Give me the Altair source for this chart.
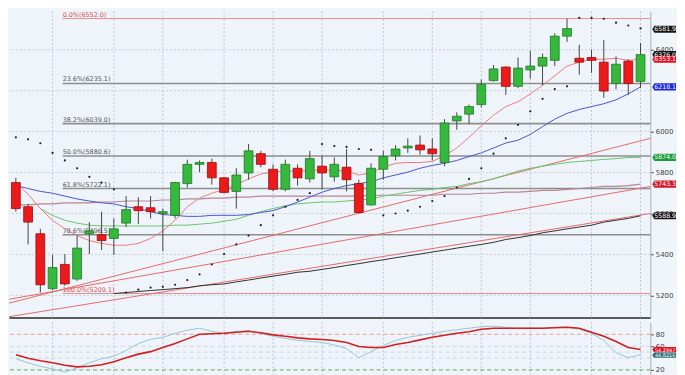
import altair as alt
import pandas as pd

# ---------------- data (weekly candles) ----------------
opens = [5751, 5633, 5501, 5233, 5351, 5280, 5501, 5496, 5478, 5553,
         5633, 5628, 5600, 5591, 5746, 5840, 5849, 5774, 5708, 5798,
         5892, 5816, 5718, 5821, 5769, 5831, 5779, 5826, 5746, 5642,
         5816, 5882, 5920, 5934, 5915, 5849, 6052, 6085, 6132, 6249,
         6315, 6221, 6301, 6320, 6348, 6466, 6358, 6362, 6339, 6235,
         6344, 6245]
highs = [5774, 5647, 5525, 5398, 5402, 5492, 5558, 5609, 5576, 5685,
         5680, 5685, 5624, 5755, 5863, 5859, 5868, 5779, 5821, 5939,
         5906, 5840, 5863, 5840, 5906, 5882, 5873, 5915, 5765, 5845,
         5906, 5934, 5967, 5981, 5967, 6061, 6094, 6132, 6254, 6325,
         6320, 6362, 6395, 6381, 6480, 6551, 6424, 6400, 6447, 6367,
         6353, 6433]
lows = [5609, 5449, 5214, 5224, 5247, 5271, 5402, 5421, 5398, 5534,
        5548, 5576, 5416, 5576, 5727, 5802, 5741, 5699, 5624, 5765,
        5826, 5708, 5708, 5736, 5751, 5718, 5755, 5708, 5600, 5638,
        5765, 5859, 5896, 5887, 5859, 5831, 6009, 6038, 6118, 6245,
        6179, 6212, 6259, 6226, 6320, 6438, 6278, 6287, 6165, 6207,
        6179, 6212]
closes = [5624, 5558, 5252, 5336, 5256, 5431, 5515, 5468, 5525, 5619,
          5614, 5609, 5609, 5751, 5840, 5849, 5774, 5703, 5788, 5906,
          5840, 5718, 5840, 5774, 5868, 5798, 5840, 5765, 5605, 5821,
          5878, 5915, 5929, 5911, 5892, 6042, 6075, 6122, 6231, 6306,
          6221, 6310, 6320, 6362, 6466, 6503, 6339, 6348, 6198, 6329,
          6235, 6376.0]

sar = [5972, 5962, 5943, 5896, 5859, 5821, 5779, 5751, 5718, 5214,
       5228, 5238, 5242, 5252, 5275, 5303, 5351, 5402, 5449, 5492,
       5543, 5591, 5633, 5666, 5699, 5939, 5929, 5925, 5915, 5911,
       5591, 5600, 5614, 5633, 5661, 5685, 5727, 5769, 5821, 5892,
       5967, 6033, 6099, 6160, 6207, 6221, 6555, 6555, 6551, 6532,
       6518, 6504]

ma_fast = [5751, 5694, 5624, 5567, 5525, 5492, 5468, 5454, 5445, 5445,
           5454, 5478, 5515, 5567, 5633, 5675, 5699, 5718, 5741, 5769,
           5793, 5802, 5807, 5807, 5812, 5812, 5812, 5807, 5788, 5798,
           5826, 5845, 5849, 5849, 5854, 5882, 5920, 5972, 6028, 6080,
           6122, 6146, 6184, 6226, 6273, 6320, 6339, 6353, 6353, 6358,
           6348, 6353.1]
ma_mid = [5736, 5722, 5708, 5699, 5685, 5671, 5661, 5652, 5647, 5633,
          5624, 5609, 5595, 5591, 5586, 5586, 5591, 5591, 5591, 5595,
          5605, 5614, 5633, 5656, 5680, 5704, 5722, 5736, 5746, 5755,
          5774, 5788, 5802, 5821, 5835, 5845, 5859, 5878, 5896, 5920,
          5944, 5958, 5986, 6024, 6061, 6089, 6108, 6122, 6136, 6155,
          6184, 6218.1]
ma_slow = [None, None,
           5624, 5591, 5567, 5553, 5543, 5539, 5539, 5539, 5539, 5539,
           5539, 5543, 5543, 5548, 5553, 5562, 5572, 5591, 5609, 5624,
           5638, 5647, 5652, 5656, 5656, 5661, 5666, 5671, 5685, 5694,
           5704, 5713, 5718, 5727, 5732, 5746, 5755, 5769, 5788, 5807,
           5821, 5831, 5840, 5849, 5854, 5859, 5864, 5868, 5873, 5874.0]
ma_long = [5642, 5642, 5647, 5647, 5652, 5652, 5652, 5656, 5656, 5661,
           5661, 5661, 5666, 5666, 5671, 5671, 5675, 5675, 5680, 5680,
           5685, 5685, 5685, 5685, 5685, 5685, 5685, 5685, 5685, 5689,
           5689, 5689, 5689, 5689, 5689, 5694, 5694, 5694, 5699, 5699,
           5704, 5704, 5708, 5713, 5713, 5718, 5722, 5727, 5732, 5732,
           5736, 5743.3]
ma_200 = [None] * 8 + [
    5209, 5214, 5219, 5224, 5228, 5233, 5238, 5247, 5252, 5256,
    5266, 5275, 5285, 5294, 5303, 5313, 5318, 5327, 5336, 5346,
    5355, 5365, 5374, 5384, 5393, 5402, 5412, 5421, 5431, 5440,
    5449, 5459, 5473, 5482, 5492, 5506, 5515, 5525, 5534, 5543,
    5558, 5567, 5576, 5588.9]

stoch_d = [45.7, 39.7, 35.4, 32, 27.7, 25.1, 26, 28.6, 33.7, 40.6,
           46.6, 50.8, 57.7, 64.6, 72.3, 80, 80.9, 81.7, 83.4, 85.1,
           82.6, 79.1, 76.6, 74, 72.3, 71.4, 69.7, 66.3, 59.4, 57.7,
           57.7, 62.9, 66.3, 70.6, 74.9, 78.3, 81.7, 84.3, 88.6, 90.3,
           90.3, 90.3, 90.3, 90.3, 91.1, 92, 90.3, 83.4, 76.6, 68,
           57.7, 54.3]
stoch_k = [38.8, 32, 26, 21.7, 16.5, 23.4, 32, 38.8, 43.1, 52.6,
           64.6, 71.4, 74.9, 81.7, 86.9, 90.3, 85.1, 81.7, 85.1, 86,
           81.7, 76.6, 73.1, 69.7, 68, 66.3, 62, 56, 40.6, 50.8,
           61.1, 69.7, 74.9, 78.3, 81.7, 85.1, 87.7, 90.3, 92.9, 93.7,
           92, 90.3, 90.3, 90.3, 92, 92, 88.6, 81.7, 69.7, 49.1,
           40.6, 45.7]

grid_idx = [3, 8, 12, 17, 21, 25, 30, 34, 38, 42, 47, 51]
grid_prices = [5200, 5400, 5600, 5800, 6000, 6200, 6400]

fib_pct = ["0.0%", "23.6%", "38.2%", "50.0%", "61.8%", "78.6%", "100.0%"]
fib_val = [6552.0, 6235.1, 6039.0, 5880.6, 5722.1, 5496.5, 5209.1]
fib_start, fib_end = 3.82, 51.8

trend_x1 = [-0.56, -0.56, -0.56]
trend_y1 = [5162, 5181, 5096]
trend_x2 = [51.8, 51.8, 51.8]
trend_y2 = [5967, 5732, 5600]

price_ticks = [5200, 5400, 5600, 5800, 6000, 6400]
tag_val = [6500, 6376.0, 6353.1, 6218.1, 5874.0, 5743.3, 5588.9]
tag_text = ["6581.9", "6376.0", "6353.1", "6218.1", "5874.0", "5743.3", "5588.9"]
tag_color = ["#151515", "#151515", "#e01020", "#1a2ad8", "#1c9c3a", "#d01a2a", "#151515"]

osc_ticks = [20, 60, 80]
osc_ref = [80, 60, 50, 40, 20]
osc_ref_color = ["#e6a0a0", "#cdd5de", "#cdd5de", "#cdd5de", "#5aa85a"]
osc_tag_val = [54.3, 44.8]
osc_tag_text = ["54.2947", "44.8216"]
osc_tag_color = ["#e01020", "#2e6b78"]

# ---------------- frames ----------------
n = len(opens)
idx = list(range(n))
candles = pd.DataFrame({"i": idx, "open": opens, "high": highs, "low": lows, "close": closes})
candles["xl"] = candles["i"] - 0.36
candles["xr"] = candles["i"] + 0.36

FONT = "DejaVu Sans"
W, H, HO = 649, 310, 54
xs = alt.Scale(domain=[-0.56, 51.8], nice=False, zero=False)
ys = alt.Scale(domain=[5092, 6588], nice=False, zero=False)
xax = alt.Axis(labels=False, ticks=False, grid=False, domainColor="#5a5a5a", domainWidth=2, title=None)
yax = alt.Axis(orient="right", values=price_ticks, format="d", labelFontSize=7, labelFont=FONT,
               labelColor="#444", tickSize=3, tickColor="#444", domainColor="#a8b0b8",
               grid=False, labelPadding=2, title=None)


def X(f):
    return alt.X(f, type="quantitative", scale=xs, axis=xax, title=None)


def Y(f):
    return alt.Y(f, type="quantitative", scale=ys, axis=yax, title=None)


base = alt.Chart(candles)

vgrid = alt.Chart(pd.DataFrame({"g": grid_idx})).mark_rule(
    color="#bcc5cf", strokeDash=[2, 2], strokeWidth=1).encode(x=X("g"))
hgrid = alt.Chart(pd.DataFrame({"p": grid_prices})).mark_rule(
    color="#c6ced8", strokeDash=[2, 2], strokeWidth=1).encode(y=Y("p"))

fib = pd.DataFrame({"pct": fib_pct, "v": fib_val})
fib["label"] = fib["pct"] + "(" + fib["v"].map(lambda v: f"{v:.1f}") + ")"
fib["x1"] = fib_start
fib["x2"] = fib_end
fib["edge"] = fib["pct"].isin(["0.0%", "100.0%"])
fib_rules = alt.Chart(fib).mark_rule().encode(
    x=X("x1"), x2="x2", y=Y("v"),
    color=alt.condition("datum.edge", alt.value("#e58c8c"), alt.value("#8e8e8e")),
    strokeWidth=alt.condition("datum.edge", alt.value(1), alt.value(1.6)))
fib_text = alt.Chart(fib).mark_text(align="left", baseline="bottom", dy=-1, fontSize=6.5, font=FONT).encode(
    x=X("x1"), y=Y("v"), text="label",
    color=alt.condition("datum.edge", alt.value("#d85050"), alt.value("#555555")))

trend = pd.DataFrame({"x1": trend_x1, "y1": trend_y1, "x2": trend_x2, "y2": trend_y2})
trend_l = alt.Chart(trend).mark_rule(color="#e46a6a", strokeWidth=1).encode(
    x=X("x1"), y=Y("y1"), x2="x2", y2="y2")


def line(vals, color, width=1.0):
    df = pd.DataFrame({"i": idx, "v": vals}).dropna()
    return alt.Chart(df).mark_line(color=color, strokeWidth=width).encode(x=X("i"), y=Y("v"))


l200 = line(ma_200, "#2e2e2e", 1)
llong = line(ma_long, "#b88593", 1.2)
lslow = line(ma_slow, "#6cc46c", 1)
lmid = line(ma_mid, "#4a55c8", 1)
lfast = line(ma_fast, "#ea7c7c", 1)

sar_df = pd.DataFrame({"i": idx, "v": sar})
sar_l = alt.Chart(sar_df).mark_circle(size=5, color="#222222", opacity=1).encode(x=X("i"), y=Y("v"))

wicks = base.mark_rule(color="#444444", strokeWidth=1).encode(x=X("i"), y=Y("low"), y2="high")
bodies = base.mark_rect(strokeWidth=0.8).encode(
    x=X("xl"), x2="xr", y=Y("open"), y2="close",
    fill=alt.condition("datum.close >= datum.open", alt.value("#36b83c"), alt.value("#ec1a1a")),
    stroke=alt.condition("datum.close >= datum.open", alt.value("#1f7a24"), alt.value("#a00808")))

TAG = "M-1,0L-0.82,-0.3L1,-0.3L1,0.3L-0.82,0.3Z"
tags = pd.DataFrame({"v": tag_val, "t": tag_text, "c": tag_color})
tag_box = alt.Chart(tags).mark_point(shape=TAG, filled=True, size=576, opacity=1).encode(
    x=alt.value(W + 14), y=Y("v"), color=alt.Color("c:N", scale=None))
tag_txt = alt.Chart(tags).mark_text(fontSize=6.3, font=FONT, color="white").encode(
    x=alt.value(W + 15), y=Y("v"), text="t")

main = alt.layer(vgrid, hgrid, fib_rules, fib_text, trend_l, l200, llong, lslow, lmid, lfast,
                 sar_l, wicks, bodies, tag_box, tag_txt).properties(width=W, height=H)

# ---------------- oscillator ----------------
oys = alt.Scale(domain=[10, 100], nice=False, zero=False)
oyax = alt.Axis(orient="right", values=osc_ticks, format="d", labelFontSize=7, labelFont=FONT,
                labelColor="#444", tickSize=3, tickColor="#444", domainColor="#a8b0b8",
                grid=False, labelPadding=2, title=None)
oxax = alt.Axis(labels=False, ticks=False, grid=False, domain=False, title=None)


def OX(f):
    return alt.X(f, type="quantitative", scale=xs, axis=oxax, title=None)


def OY(f):
    return alt.Y(f, type="quantitative", scale=oys, axis=oyax, title=None)


ogrid = alt.Chart(pd.DataFrame({"g": grid_idx})).mark_rule(
    color="#bcc5cf", strokeDash=[2, 2], strokeWidth=1).encode(x=OX("g"))
oref = alt.Chart(pd.DataFrame({"v": osc_ref, "c": osc_ref_color})).mark_rule(
    strokeDash=[4, 3], strokeWidth=1).encode(y=OY("v"), color=alt.Color("c:N", scale=None))
osc_df = pd.DataFrame({"i": idx, "k": stoch_k, "d": stoch_d})
k_line = alt.Chart(osc_df).mark_line(color="#93c6d2", strokeWidth=1).encode(x=OX("i"), y=OY("k"))
d_line = alt.Chart(osc_df).mark_line(color="#d02020", strokeWidth=1.6).encode(x=OX("i"), y=OY("d"))

OTAG = "M-1,0L-0.85,-0.22L1,-0.22L1,0.22L-0.85,0.22Z"
otags = pd.DataFrame({"v": osc_tag_val, "t": osc_tag_text, "c": osc_tag_color})
otag_box = alt.Chart(otags).mark_point(shape=OTAG, filled=True, size=576, opacity=1).encode(
    x=alt.value(W + 14), y=OY("v"), color=alt.Color("c:N", scale=None))
otag_txt = alt.Chart(otags).mark_text(fontSize=5, font=FONT, color="white").encode(
    x=alt.value(W + 15), y=OY("v"), text="t")

osc = alt.layer(ogrid, oref, k_line, d_line, otag_box, otag_txt).properties(width=W, height=HO)

chart = alt.vconcat(main, osc, spacing=3).properties(
    background="#f0f5fa", padding=0
).configure_view(stroke=None, fill="#eef4fa")

chart.save("out.html", embed_options={"renderer": "svg", "actions": False})
